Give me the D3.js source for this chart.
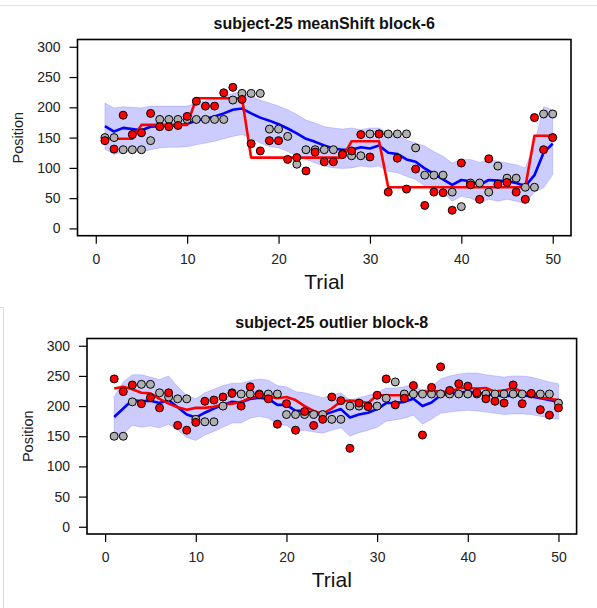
<!DOCTYPE html>
<html>
<head>
<meta charset="utf-8">
<script src="https://cdn.jsdelivr.net/npm/d3@7"></script>
<style>
  body { margin: 0; background: #fff; }
  svg { display: block; }
</style>
</head>
<body>
<div id="chart"></div>
<script>
var width = 597,
    height = 608

var trials = d3.range(1, 51)
var xTicks = [0, 10, 20, 30, 40, 50]
var yTicks = [0, 50, 100, 150, 200, 250, 300]
var titles = ['subject-25 meanShift block-6', 'subject-25 outlier block-8']

// block 6 (mean shift)
var msObs = [150, 150, 130, 130, 130, 145, 180, 180, 180, 180, 180, 180, 180, 180, 212, 223, 223, 223, 164, 164,
    152, 106, 130, 130, 130, 130, 123, 120, 120, 156, 156, 156, 156, 156, 133, 88, 88, 88, 60, 36,
    75, 75, 60, 103, 83, 83, 68, 68, 189, 189]
var msPred = [145, 131, 187, 155, 158, 190, 168, 168, 170, 185, 210, 202, 202, 224, 233, 213, 140, 128, 145, 145,
    114, 117, 95, 126, 110, 110, 122, 128, 155, 118, 156, 60, 116, 65, 98, 38, 60, 59, 30, 108,
    72, 48, 115, 73, 76, 60, 48, 183, 130, 150]
var msTrue = [148, 148, 148, 148, 171, 171, 171, 171, 171, 171, 215, 215, 215, 215, 215, 215, 117, 117, 117, 117,
    117, 117, 117, 117, 117, 117, 117, 144, 144, 144, 144, 68, 68, 68, 68, 68, 68, 68, 68, 68,
    68, 68, 68, 68, 68, 68, 68, 153, 153, 153]
var msEst = [169, 160, 166, 164, 162, 168, 169, 169, 170, 173, 178, 181, 185, 190, 196, 198, 190, 183, 178, 172,
    165, 157, 148, 143, 137, 132, 130, 130, 134, 132, 137, 125, 123, 114, 110, 99, 90, 81, 72, 80,
    78, 72, 80, 79, 78, 75, 70, 88, 125, 140]
var msUpper = [207, 199, 201, 200, 199, 202, 202, 202, 202, 202, 207, 211, 214, 218, 223, 226, 219, 212, 207, 202,
    196, 188, 179, 174, 168, 166, 164, 166, 163, 166, 166, 157, 155, 146, 141, 136, 127, 119, 108, 114,
    114, 109, 114, 111, 108, 105, 100, 140, 201, 196]
var msLower = [131, 122, 127, 127, 126, 130, 133, 134, 134, 135, 138, 141, 144, 148, 152, 155, 149, 141, 135, 133,
    127, 119, 114, 108, 103, 100, 99, 100, 103, 101, 103, 94, 92, 86, 81, 70, 65, 59, 45, 53,
    50, 42, 48, 45, 48, 45, 41, 60, 67, 89]

// block 8 (outlier)
var olObs = [150, 150, 207, 236, 236, 222, 215, 212, 212, 178, 174, 174, 200, 222, 220, 220, 220, 220, 220, 186,
    186, 186, 186, 186, 178, 178, 200, 200, 200, 200, 213, 240, 220, 220, 220, 220, 220, 220, 220, 220,
    220, 220, 220, 220, 220, 220, 220, 220, 220, 205]
var olPred = [245, 224, 235, 204, 214, 197, 222, 168, 160, 173, 208, 210, 215, 221, 200, 232, 219, 212, 170, 204,
    160, 191, 168, 178, 215, 209, 130, 205, 199, 218, 245, 202, 213, 234, 152, 231, 265, 226, 237, 233,
    222, 212, 208, 205, 235, 204, 221, 194, 185, 197]
var olTrue = [229, 232, 228, 222, 221, 212, 204, 198, 194, 197, 197, 199, 203, 204, 207, 214, 216, 216, 213, 215,
    210, 200, 192, 187, 196, 208, 209, 208, 205, 218, 218, 218, 218, 219, 224, 224, 225, 222, 230, 230,
    229, 230, 224, 226, 230, 224, 219, 214, 212, 210]
var olEst = [182, 196, 210, 208, 209, 205, 210, 198, 186, 181, 189, 196, 202, 207, 206, 212, 214, 212, 202, 202,
    192, 192, 189, 185, 190, 195, 181, 186, 189, 195, 205, 205, 207, 212, 200, 206, 218, 220, 222, 224,
    222, 220, 218, 216, 218, 218, 216, 213, 210, 207]
var olUpper = [216, 240, 252, 252, 248, 244, 250, 232, 218, 212, 222, 228, 234, 238, 238, 242, 245, 243, 234, 232,
    224, 222, 218, 214, 218, 222, 210, 214, 218, 222, 230, 230, 232, 236, 226, 232, 245, 250, 253, 255,
    255, 252, 250, 248, 250, 250, 248, 244, 240, 237]
var olLower = [150, 154, 168, 165, 167, 164, 170, 160, 148, 143, 152, 158, 165, 172, 172, 180, 183, 180, 170, 168,
    158, 160, 157, 155, 160, 164, 150, 156, 160, 165, 175, 177, 180, 185, 170, 178, 188, 190, 192, 193,
    192, 190, 188, 186, 187, 187, 186, 183, 180, 178]

var panels = [
    { title: titles[0], obs: msObs, pred: msPred, truth: msTrue, est: msEst, upper: msUpper, lower: msLower,
      left: 77.5, right: 571, top: 39.5, bottom: 235.7 },
    { title: titles[1], obs: olObs, pred: olPred, truth: olTrue, est: olEst, upper: olUpper, lower: olLower,
      left: 87, right: 576.6, top: 338.5, bottom: 534 }
]

var font = '"Liberation Sans", Arial, Helvetica, sans-serif'

var svg = d3.select('#chart').append('svg')
    .attr('width', width)
    .attr('height', height)

svg.append('rect').attr('width', width).attr('height', height).attr('fill', '#fff')

// page chrome around the two images
svg.append('line').attr('x1', 0).attr('x2', width).attr('y1', 5.5).attr('y2', 5.5)
    .attr('stroke', '#e6e6e6').attr('stroke-width', 1)
svg.append('path').attr('d', 'M0,307.5H3.5V608')
    .attr('fill', 'none').attr('stroke', '#dcdcdc').attr('stroke-width', 1)

panels.forEach(function(p) {
    var x = d3.scaleLinear().domain([-2, 52]).range([p.left, p.right])
    var y = d3.scaleLinear().domain([-12, 312]).range([p.bottom, p.top])
    var g = svg.append('g')

    var area = d3.area()
        .x(function(d) { return x(d) })
        .y0(function(d, i) { return y(p.lower[i]) })
        .y1(function(d, i) { return y(p.upper[i]) })

    g.append('path')
        .datum(trials)
        .attr('d', area)
        .attr('fill', 'rgba(0,0,255,0.2)')
        .attr('stroke', 'rgba(0,0,255,0.15)')
        .attr('stroke-width', 1)

    var line = function(vals) {
        return d3.line()
            .x(function(d) { return x(d) })
            .y(function(d, i) { return y(vals[i]) })
    }

    g.append('path').datum(trials)
        .attr('d', line(p.est))
        .attr('fill', 'none').attr('stroke', '#0000ff').attr('stroke-width', 2.6)
        .attr('stroke-linejoin', 'round')

    g.append('path').datum(trials)
        .attr('d', line(p.truth))
        .attr('fill', 'none').attr('stroke', '#ff0000').attr('stroke-width', 2.6)
        .attr('stroke-linejoin', 'round')

    g.selectAll('circle.obs').data(trials).enter().append('circle')
        .attr('class', 'obs')
        .attr('cx', function(d) { return x(d) })
        .attr('cy', function(d, i) { return y(p.obs[i]) })
        .attr('r', 4)
        .attr('fill', '#b0b0b0')
        .attr('stroke', '#000').attr('stroke-width', 1)

    g.selectAll('circle.pred').data(trials).enter().append('circle')
        .attr('class', 'pred')
        .attr('cx', function(d) { return x(d) })
        .attr('cy', function(d, i) { return y(p.pred[i]) })
        .attr('r', 4)
        .attr('fill', '#ff0000')
        .attr('stroke', '#000').attr('stroke-width', 1)

    // box
    g.append('rect')
        .attr('x', p.left).attr('y', p.top)
        .attr('width', p.right - p.left).attr('height', p.bottom - p.top)
        .attr('fill', 'none').attr('stroke', '#000').attr('stroke-width', 1.6)

    var xAxis = g.append('g')
        .attr('transform', 'translate(0,' + p.bottom + ')')
        .call(d3.axisBottom(x).tickValues(xTicks).tickSize(8).tickPadding(10))
    var yAxis = g.append('g')
        .attr('transform', 'translate(' + p.left + ',0)')
        .call(d3.axisLeft(y).tickValues(yTicks).tickSize(8).tickPadding(9))

    ;[xAxis, yAxis].forEach(function(a) {
        a.select('.domain').remove()
        a.selectAll('line').attr('stroke', '#000').attr('stroke-width', 1.2)
        a.selectAll('text').attr('fill', '#222')
        a.attr('font-family', font).attr('font-size', 14)
    })

    var cx = (p.left + p.right) / 2

    g.append('text')
        .attr('x', cx).attr('y', p.top - 11)
        .attr('text-anchor', 'middle')
        .attr('font-family', font).attr('font-size', 16).attr('font-weight', 'bold')
        .attr('fill', '#111')
        .text(p.title)

    g.append('text')
        .attr('x', cx).attr('y', p.bottom + 53)
        .attr('text-anchor', 'middle')
        .attr('font-family', font).attr('font-size', 21)
        .attr('fill', '#111')
        .text('Trial')

    g.append('text')
        .attr('transform', 'translate(' + (p.left - 59.5) + ',' + ((p.top + p.bottom) / 2) + ') rotate(-90)')
        .attr('dy', '0.35em')
        .attr('text-anchor', 'middle')
        .attr('font-family', font).attr('font-size', 14.5)
        .attr('fill', '#222')
        .text('Position')
})
</script>
</body>
</html>
